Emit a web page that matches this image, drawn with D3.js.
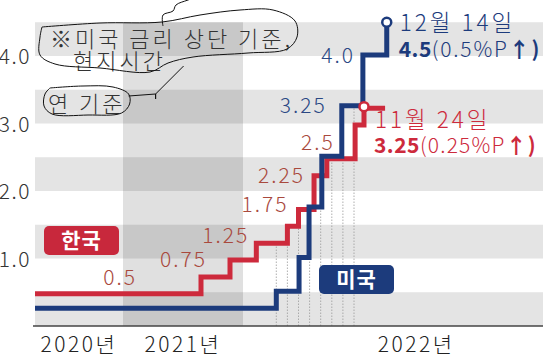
<!DOCTYPE html>
<html>
<head>
<meta charset="utf-8">
<script src="https://cdn.jsdelivr.net/npm/d3@7"></script>
<style>
html, body { margin: 0; padding: 0; background: #fff; }
svg text { font-family: "Noto Sans CJK KR", "Noto Sans", sans-serif; }
</style>
</head>
<body>
<div id="chart"></div>
<script>
// 월 단위 (2020년 1월 = 0) 계단 시점, 금리(%)
const usMonths = [0, 27.0, 29.05, 29.95, 31.1, 32.9, 34.8, 36.95]
const usRates  = [0.25, 0.5, 1.0, 1.75, 2.5, 3.25, 4.0, 4.5]
const krMonths = [0, 19.8, 22.7, 25.2, 28.0, 29.0, 30.4, 31.55, 34.1, 34.9, 36.8]
const krRates  = [0.5, 0.75, 1.0, 1.25, 1.5, 1.75, 2.25, 2.5, 3.0, 3.25, 3.25]
const yTicks = [1.0, 2.0, 3.0, 4.0]
const years = ["2020년", "2021년", "2022년"]
const guideMonths = [27, 28, 29, 30, 31, 32, 33, 34]
const krLabels = ["0.5", "0.75", "1.25", "1.75", "2.25", "2.5"]
const usLabels = ["3.25", "4.0"]
const usLast = ["12월 14일", "4.5", "(0.5%P", "↑)"]
const krLast = ["11월 24일", "3.25", "(0.25%P", "↑)"]

const W = 543, H = 361
const RED = "#cd2a3c", BLUE = "#1c3b7c"
const RED_TXT = "#a9493d", BLUE_TXT = "#2b4884"

const svg = d3.select("#chart").append("svg")
    .attr("width", W)
    .attr("height", H)

const x = d3.scaleLinear().domain([0, 12, 24, 36]).range([35, 123, 243, 376.2])
const y = d3.scaleLinear().domain([0, 4.5]).range([326, 22.25])

// 배경 줄무늬
svg.append("g")
    .selectAll("rect")
    .data(d3.range(0, 4.5, 1))
    .enter().append("rect")
    .attr("x", x(0))
    .attr("width", W - x(0))
    .attr("y", d => y(d + 0.5))
    .attr("height", d => y(d) - y(d + 0.5))
    .attr("fill", "#e4e4e4")

// 2021년 음영
svg.append("rect")
    .attr("x", x(12))
    .attr("width", x(24) - x(12))
    .attr("y", y(4.5))
    .attr("height", y(0) - y(4.5))
    .attr("fill", "rgba(0,0,0,0.12)")

const us = usMonths.map((m, i) => [m, usRates[i]])
const kr = krMonths.map((m, i) => [m, krRates[i]])
const rateAt = (series, m) => series.filter(d => d[0] <= m).pop()[1]

// 점선 안내선
svg.append("g")
    .selectAll("line")
    .data(guideMonths)
    .enter().append("line")
    .attr("x1", d => x(d))
    .attr("x2", d => x(d))
    .attr("y1", y(0))
    .attr("y2", d => y(Math.max(rateAt(us, d), rateAt(kr, d))))
    .attr("stroke", "#9a9a9a")
    .attr("stroke-width", 0.8)
    .attr("stroke-dasharray", "1.5,1.5")

// 축
svg.append("line")
    .attr("x1", 33).attr("x2", W)
    .attr("y1", y(0)).attr("y2", y(0))
    .attr("stroke", "#444")
    .attr("stroke-width", 1.5)

svg.append("g")
    .selectAll("text")
    .data(yTicks)
    .enter().append("text")
    .attr("x", 31)
    .attr("y", d => y(d) + 8)
    .attr("text-anchor", "end")
    .attr("font-size", 21)
    .attr("font-weight", 300)
    .attr("letter-spacing", 1.5)
    .attr("fill", "#333")
    .text(d => d.toFixed(1))

svg.append("g")
    .selectAll("text")
    .data(years)
    .enter().append("text")
    .attr("x", (d, i) => i < 2 ? x(i * 12 + 6) : x(36) + 40)
    .attr("y", 352)
    .attr("text-anchor", "middle")
    .attr("font-size", 21)
    .attr("font-weight", 300)
    .attr("letter-spacing", 2.5)
    .attr("fill", "#222")
    .text(d => d)

// 계단선 (겹치는 구간이 보이도록 살짝 어긋나게)
const line = d3.line()
    .x(d => x(d[0]))
    .y(d => y(d[1]))
    .curve(d3.curveStepAfter)

svg.append("path")
    .datum(kr)
    .attr("d", line)
    .attr("transform", "translate(0,1.5)")
    .attr("fill", "none")
    .attr("stroke", RED)
    .attr("stroke-width", 5)
svg.append("path")
    .datum(us)
    .attr("d", line)
    .attr("transform", "translate(0,-1)")
    .attr("fill", "none")
    .attr("stroke", BLUE)
    .attr("stroke-width", 5)

// 값 라벨 (계단 시작점 기준 오프셋)
const krOffsets = [[102, -7], [6, -8], [-7, 1.5], [-10, 4], [-9, 9], [8, -7]]
const usOffsets = [[-15, 6], [-8, 7]]
const stepOf = (series, v) => series.find(d => d[1] == +v)

svg.append("g")
    .selectAll("text")
    .data(krLabels)
    .enter().append("text")
    .attr("x", (d, i) => x(stepOf(kr, d)[0]) + krOffsets[i][0])
    .attr("y", (d, i) => y(+d) + krOffsets[i][1])
    .attr("text-anchor", "end")
    .attr("font-size", 21)
    .attr("font-weight", 300)
    .attr("letter-spacing", 2)
    .attr("fill", RED_TXT)
    .text(d => d)

svg.append("g")
    .selectAll("text")
    .data(usLabels)
    .enter().append("text")
    .attr("x", (d, i) => x(stepOf(us, d)[0]) + usOffsets[i][0])
    .attr("y", (d, i) => y(+d) + usOffsets[i][1])
    .attr("text-anchor", "end")
    .attr("font-size", 21)
    .attr("font-weight", 300)
    .attr("letter-spacing", 2)
    .attr("fill", BLUE_TXT)
    .text(d => d)

// 마지막 지점 표시
const usEnd = us[us.length - 1]
const krEnd = kr[kr.length - 2]
function endNote(pt, info, color, dx, dy1, dy2, sp) {
    svg.append("circle")
        .attr("cx", x(pt[0]))
        .attr("cy", y(pt[1]))
        .attr("r", 4.5)
        .attr("fill", "#fff")
        .attr("stroke", color)
        .attr("stroke-width", 2.5)
    svg.append("text")
        .attr("x", x(pt[0]) + dx)
        .attr("y", y(pt[1]) + dy1)
        .attr("font-size", 22.5)
        .attr("font-weight", 300)
        .attr("letter-spacing", 3)
        .attr("fill", color)
        .text(info[0])
    const t = svg.append("text")
        .attr("x", x(pt[0]) + dx - 1)
        .attr("y", y(pt[1]) + dy2)
        .attr("font-size", 21)
        .attr("letter-spacing", sp)
        .attr("fill", color)
    t.append("tspan").attr("font-weight", 700).attr("letter-spacing", 0.5).text(info[1])
    t.append("tspan").attr("font-weight", 300).text(info[2])
    t.append("tspan").attr("font-weight", 700).text(info[3])
}
endNote(usEnd, usLast, BLUE, 13, 9, 35, 1.8)
endNote(krEnd, krLast, RED, 11, 21.5, 46.5, 1.2)

// 범례 상자
function tag(label, color, bx, by) {
    svg.append("rect")
        .attr("x", bx).attr("y", by)
        .attr("width", 75).attr("height", 29)
        .attr("rx", 5)
        .attr("fill", color)
    svg.append("text")
        .attr("x", bx + 37.5)
        .attr("y", by + 22)
        .attr("text-anchor", "middle")
        .attr("font-size", 21)
        .attr("font-weight", 700)
        .attr("letter-spacing", 1)
        .attr("fill", "#fff")
        .text(label)
}
tag("한국", "#c8283c", 44, 226)
tag("미국", "#1c3b7c", 319, 265)

// 주석
const note = svg.append("g")
    .attr("font-size", 22)
    .attr("font-weight", 300)
    .attr("letter-spacing", 3)
    .attr("fill", "#333")
const n1 = note.append("text").attr("x", 50).attr("y", 47).text("※미국 금리 상단 기준,")
const n2 = note.append("text").attr("x", 73).attr("y", 69).text("현지시간")
const n3 = note.append("text").attr("x", 48).attr("y", 112).text("연 기준")

// 손으로 그린 테두리
const scrib = d3.line().curve(d3.curveCatmullRom)
const b1 = n1.node().getBBox()
const b3 = n3.node().getBBox()
const r1 = b1.x + b1.width, t1 = b1.y
svg.append("path")
    .attr("d", scrib([
        [b1.x - 8, t1 + 6], [b1.x + 50, t1 + 2], [b1.x + 112, t1 + 1],
        [b1.x + 150, t1 - 6], [b1.x + 190, t1 - 11], [r1 - 20, t1 - 11],
        [r1 + 2, t1], [r1 + 4, t1 + 16], [r1 - 6, t1 + 28], [r1 - 45, t1 + 32],
        [r1 - 100, t1 + 36], [r1 - 125, t1 + 42], [b1.x + 100, t1 + 51],
        [b1.x + 50, t1 + 47], [b1.x + 5, t1 + 43], [b1.x - 10, t1 + 34],
        [b1.x - 10, t1 + 16], [b1.x - 8, t1 + 6]
    ]))
    .attr("fill", "none")
    .attr("stroke", "#111")
    .attr("stroke-width", 1)
svg.append("path")
    .attr("d", scrib([
        [b1.x + 113, t1 + 5], [b1.x + 113, t1 - 6], [b1.x + 123, t1 - 10],
        [b1.x + 126, t1 - 16], [b1.x + 138, t1 - 21], [b1.x + 155, t1 - 27],
        [b1.x + 180, t1 - 30]
    ]))
    .attr("fill", "none")
    .attr("stroke", "#111")
    .attr("stroke-width", 1)
const r3 = b3.x + b3.width, t3 = b3.y
svg.append("path")
    .attr("d", scrib([
        [b3.x + 2, t3 + 2], [b3.x + 35, t3], [b3.x + 65, t3 + 1], [r3 + 3, t3 + 8],
        [r3 + 4, t3 + 18], [r3 - 4, t3 + 27], [b3.x + 40, t3 + 29],
        [b3.x + 4, t3 + 28], [b3.x - 4, t3 + 20], [b3.x - 3, t3 + 8], [b3.x + 2, t3 + 2]
    ]))
    .attr("fill", "none")
    .attr("stroke", "#111")
    .attr("stroke-width", 1)
svg.append("path")
    .attr("d", d3.line()([
        [r3 + 3, t3 + 10], [r3 + 30, t3 + 8], [r3 + 30, t3 + 13], [r3 + 30, t3 + 8],
        [r3 + 58, t3 - 20]
    ]))
    .attr("fill", "none")
    .attr("stroke", "#111")
    .attr("stroke-width", 1)
</script>
</body>
</html>
